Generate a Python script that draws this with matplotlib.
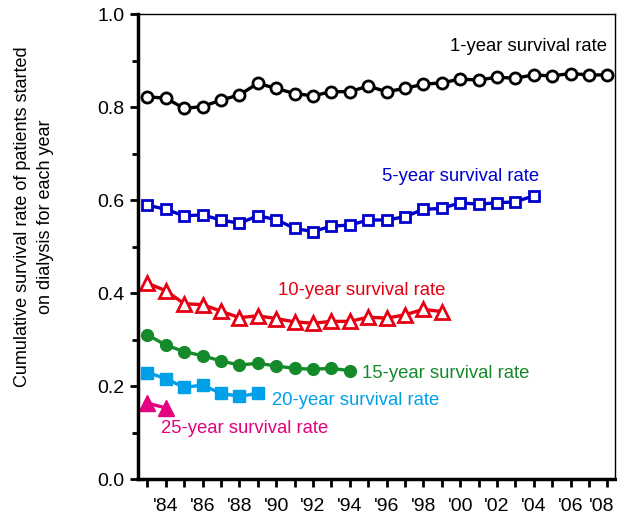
import numpy as np
import matplotlib
matplotlib.use("Agg")
import matplotlib.pyplot as plt
import matplotlib.transforms as mtransforms
from matplotlib.ticker import MultipleLocator, FixedLocator, FormatStrFormatter

plt.rcParams['font.family'] = ['Liberation Sans', 'DejaVu Sans']

years = np.arange(1983, 2009)
one_year = [0.822, 0.819, 0.797, 0.801, 0.815, 0.826, 0.851, 0.840, 0.829, 0.824,
            0.833, 0.833, 0.845, 0.833, 0.840, 0.849, 0.852, 0.860, 0.858, 0.864,
            0.862, 0.869, 0.867, 0.872, 0.869, 0.869]
five_year = [0.589, 0.580, 0.566, 0.568, 0.557, 0.550, 0.566, 0.558, 0.539, 0.532,
             0.544, 0.546, 0.557, 0.557, 0.564, 0.580, 0.582, 0.594, 0.591, 0.594,
             0.596, 0.609]
ten_year = [0.421, 0.405, 0.377, 0.375, 0.361, 0.347, 0.351, 0.345, 0.338, 0.335,
            0.339, 0.339, 0.348, 0.346, 0.353, 0.365, 0.360]
fifteen_year = [0.310, 0.288, 0.274, 0.265, 0.254, 0.245, 0.249, 0.243, 0.238, 0.236,
                0.238, 0.233]
twenty_year = [0.229, 0.216, 0.197, 0.202, 0.184, 0.178, 0.184]
twentyfive_year = [0.163, 0.153]

tick_years = np.arange(1983, 2009)
label_years = np.arange(1984, 2009, 2)
tick_labels = ["'%02d" % (y % 100) for y in label_years]

blue = '#0000cc'
red = '#e60012'
green = '#158a2a'
cyan = '#00a0e9'
magenta = '#e4007f'

fig = plt.figure(figsize=(6.17, 5.21), dpi=100)
ax = fig.add_axes([0.2237, 0.0806, 0.7731, 0.8925])

lw = 2.4
ax.plot(years, one_year, '-', color='black', lw=lw, marker='o', ms=8,
        mfc='white', mec='black', mew=2)
ax.plot(years[:len(five_year)], five_year, '-', color=blue, lw=lw, marker='s', ms=7,
        mfc='white', mec=blue, mew=2)
ax.plot(years[:len(ten_year)], ten_year, '-', color=red, lw=lw, marker='^', ms=10,
        mfc='white', mec=red, mew=2)
ax.plot(years[:len(fifteen_year)], fifteen_year, '-', color=green, lw=lw, marker='o', ms=8.5,
        mfc=green, mec=green)
ax.plot(years[:len(twenty_year)], twenty_year, '-', color=cyan, lw=lw, marker='s', ms=8,
        mfc=cyan, mec=cyan)
ax.plot(years[:len(twentyfive_year)], twentyfive_year, '-', color=magenta, lw=lw, marker='^',
        ms=11, mfc=magenta, mec=magenta)

fs = 13.3
ax.text(2008.0, 0.930, '1-year survival rate', color='black', fontsize=fs, ha='right', va='center')
ax.text(1995.74, 0.650, '5-year survival rate', color=blue, fontsize=fs, ha='left', va='center')
ax.text(1990.12, 0.406, '10-year survival rate', color=red, fontsize=fs, ha='left', va='center')
ax.text(1994.65, 0.226, '15-year survival rate', color=green, fontsize=fs, ha='left', va='center')
ax.text(1989.76, 0.168, '20-year survival rate', color=cyan, fontsize=fs, ha='left', va='center')
ax.text(1983.74, 0.109, '25-year survival rate', color=magenta, fontsize=fs, ha='left', va='center')

ax.set_xlim(1982.49, 2008.42)
ax.set_ylim(0, 1.0)
ax.xaxis.set_major_locator(FixedLocator(label_years))
ax.xaxis.set_minor_locator(FixedLocator(tick_years[::2]))
ax.set_xticklabels(tick_labels)
ax.yaxis.set_major_locator(MultipleLocator(0.2))
ax.yaxis.set_minor_locator(MultipleLocator(0.1))
ax.yaxis.set_major_formatter(FormatStrFormatter('%.1f'))

ax.tick_params(axis='both', which='major', labelsize=14, width=2, length=6, direction='out')
ax.tick_params(axis='x', which='major', pad=8)
ax.tick_params(axis='y', which='major', pad=4)
ax.tick_params(axis='x', which='minor', width=2, length=6)
ax.tick_params(axis='y', which='minor', width=2, length=4)

# nudge the last year label so it stays inside the figure
last = ax.get_xticklabels()[-1]
last.set_transform(last.get_transform() +
                   mtransforms.ScaledTranslation(-4 / 72, 0, fig.dpi_scale_trans))

for s in ['left', 'bottom']:
    ax.spines[s].set_linewidth(2.5)
for s in ['top', 'right']:
    ax.spines[s].set_linewidth(1.0)

fig.text(34 / 617, 1 - 217 / 521,
         'Cumulative survival rate of patients started\non dialysis for each year',
         rotation=90, ha='center', va='center', fontsize=13, linespacing=1.4)

fig.savefig('out.png', dpi=100)
